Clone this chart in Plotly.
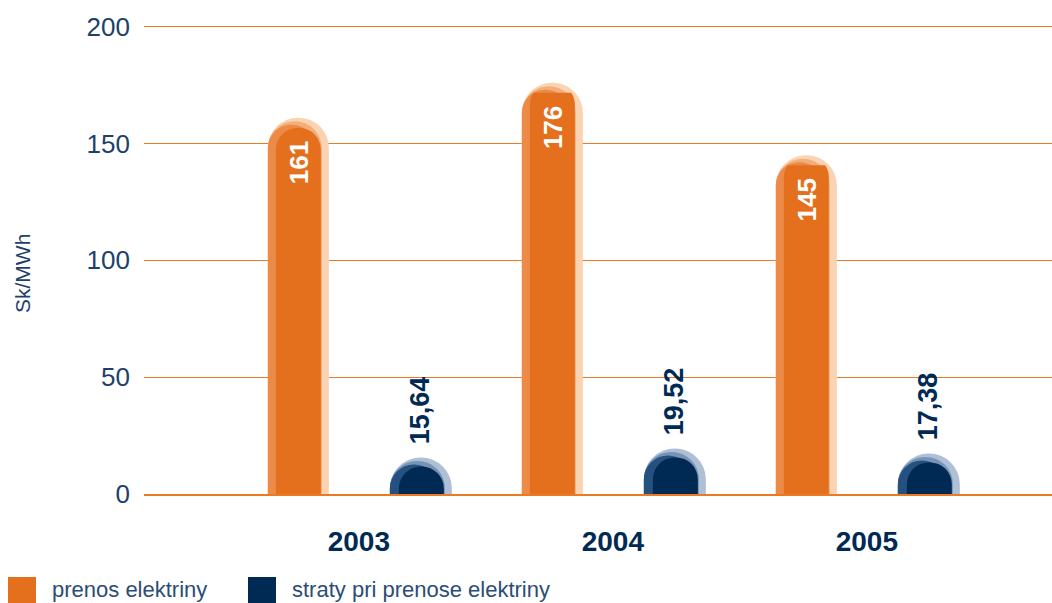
import plotly.graph_objects as go

years = ["2003", "2004", "2005"]
prenos = [161, 176, 145]
straty = [15.64, 19.52, 17.38]
series_names = ["prenos elektriny", "straty pri prenose elektriny"]
y_ticks = [0, 50, 100, 150, 200]
y_title = "Sk/MWh"

# ---- styling ----
FONT = "Liberation Sans Narrow, Liberation Sans, Arial, sans-serif"
ORANGE = "#E4701E"
ORANGE_MED = "#EC8B47"
ORANGE_MID = "#F3AE7B"
PEACH = "#FAD4B2"
NAVY = "#002A54"
BLUE_DARK = "#24517F"
BLUE_MID = "#7793B6"
BLUE_LIGHT = "#AEBFD6"
GRID = "#EC7A25"
TICK_COL = "#1E416B"
LEG_COL = "#2B4D76"

W, H = 1052, 603
ML, MR, MT, MB = 144, 0, 22, 109
X_RANGE = [-0.846, 2.729]
Y_RANGE = [0, 202]
PX_X = (W - ML - MR) / (X_RANGE[1] - X_RANGE[0])   # px per category unit
PX_Y = (H - MT - MB) / (Y_RANGE[1] - Y_RANGE[0])   # px per value unit


def u(px):
    return px / PX_X


def layer(vals, left_px, right_px, color, drop_px=0):
    return go.Bar(
        x=years,
        y=[v - drop_px / PX_Y for v in vals],
        offset=u(left_px),
        width=u(right_px - left_px),
        marker=dict(color=color, line=dict(width=0),
                    cornerradius=int((right_px - left_px) / 2)),
        showlegend=False,
        hoverinfo="skip",
        cliponaxis=False,
    )


fig = go.Figure()
# prenos bars (layered for the rim effect)
fig.add_trace(layer(prenos, -91, -30, PEACH))
fig.add_trace(layer(prenos, -91, -37, ORANGE_MID, drop_px=3.5))
fig.add_trace(layer(prenos, -91, -44, ORANGE_MED, drop_px=7))
fig.add_trace(layer(prenos, -83, -38, ORANGE, drop_px=10))
# straty bars
fig.add_trace(layer(straty, 31, 93, BLUE_LIGHT))
fig.add_trace(layer(straty, 31, 86, BLUE_MID, drop_px=3.5))
fig.add_trace(layer(straty, 31, 79, BLUE_DARK, drop_px=7))
fig.add_trace(layer(straty, 40, 85, NAVY, drop_px=9))

annotations = []
for i, v in enumerate(prenos):
    annotations.append(dict(
        x=i, y=v, xref="x", yref="y", text=f"<b>{v}</b>", showarrow=False,
        textangle=-90, xanchor="center", yanchor="top", xshift=-60, yshift=-21,
        font=dict(family=FONT, size=26, color="white"),
    ))
for i, v in enumerate(straty):
    annotations.append(dict(
        x=i, y=v, xref="x", yref="y", text=f"<b>{v:.2f}</b>".replace(".", ","),
        showarrow=False, textangle=-90, xanchor="center", yanchor="bottom",
        xshift=62, yshift=11,
        font=dict(family=FONT, size=27, color=NAVY),
    ))

PW, PH = W - ML - MR, H - MT - MB


def px2paper(xp, yp):
    return (xp - ML) / PW, (H - MB - yp) / PH


# y axis title
tx, ty = px2paper(22, 274)
annotations.append(dict(
    x=tx, y=ty, xref="paper", yref="paper",
    text=y_title, showarrow=False, textangle=-90, xanchor="center", yanchor="middle",
    font=dict(family=FONT, size=21, color=TICK_COL),
))

# custom legend
shapes = []
leg_items = [(series_names[0], ORANGE, 8, 50), (series_names[1], NAVY, 248, 290)]
for name, col, sx, lx in leg_items:
    x0, y0 = px2paper(sx, 603)
    x1, y1 = px2paper(sx + 28, 577)
    shapes.append(dict(type="rect", xref="paper", yref="paper", x0=x0, x1=x1, y0=y0, y1=y1,
                       fillcolor=col, line=dict(width=0), layer="above"))
    ax, ay = px2paper(lx, 589)
    annotations.append(dict(x=ax, y=ay, xref="paper", yref="paper", text=name, showarrow=False,
                            xanchor="left", yanchor="middle",
                            font=dict(family=FONT, size=22, color=LEG_COL)))

fig.update_layout(
    width=W, height=H,
    margin=dict(l=ML, r=MR, t=MT, b=MB, pad=0),
    paper_bgcolor="white", plot_bgcolor="white",
    barmode="overlay",
    showlegend=False,
    annotations=annotations,
    shapes=shapes,
    xaxis=dict(
        type="category", range=X_RANGE, showgrid=False, zeroline=False,
        showline=True, linecolor=GRID, linewidth=2,
        ticks="", ticklabelstandoff=21,
        tickfont=dict(family=FONT, size=28, color=NAVY, weight="bold"),
    ),
    yaxis=dict(
        range=Y_RANGE, tickvals=y_ticks, showgrid=True, gridcolor=GRID, gridwidth=1,
        zeroline=False, showline=False, ticks="", ticklabelstandoff=13,
        tickfont=dict(family=FONT, size=26, color=TICK_COL),
    ),
)

fig.write_html(
    "out.html",
    config={"displayModeBar": False},
    post_script="document.body.style.margin='0';document.body.style.overflow='hidden';",
)
